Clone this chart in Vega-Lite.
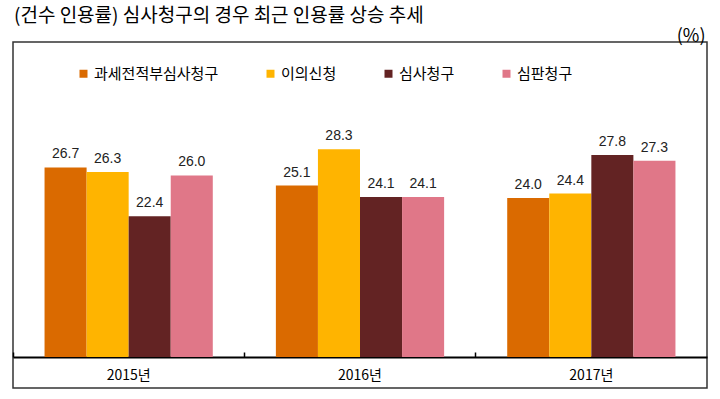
{
  "$schema": "https://vega.github.io/schema/vega-lite/v6.json",
  "width": 694,
  "height": 346,
  "autosize": {"type": "none"},
  "padding": {"left": 13, "top": 42, "right": 13, "bottom": 11},
  "background": "white",
  "config": {"view": {"stroke": "#333333", "strokeWidth": 1.5}},
  "title": {
    "text": "(건수 인용률) 심사청구의 경우 최근 인용률 상승 추세",
    "anchor": "start",
    "frame": "group",
    "font": "Noto Sans CJK KR",
    "fontSize": 19,
    "fontWeight": "normal",
    "color": "#000000",
    "offset": 1,
    "dx": 1
  },
  "data": {
    "values": [
      {"year": "2015년", "type": "과세전적부심사청구", "value": 26.7},
      {"year": "2015년", "type": "이의신청", "value": 26.3},
      {"year": "2015년", "type": "심사청구", "value": 22.4},
      {"year": "2015년", "type": "심판청구", "value": 26.0},
      {"year": "2016년", "type": "과세전적부심사청구", "value": 25.1},
      {"year": "2016년", "type": "이의신청", "value": 28.3},
      {"year": "2016년", "type": "심사청구", "value": 24.1},
      {"year": "2016년", "type": "심판청구", "value": 24.1},
      {"year": "2017년", "type": "과세전적부심사청구", "value": 24.0},
      {"year": "2017년", "type": "이의신청", "value": 24.4},
      {"year": "2017년", "type": "심사청구", "value": 27.8},
      {"year": "2017년", "type": "심판청구", "value": 27.3}
    ]
  },
  "encoding": {
    "x": {
      "field": "year",
      "type": "nominal",
      "scale": {"paddingInner": 0, "paddingOuter": 0},
      "axis": {
        "title": null,
        "orient": "bottom",
        "offset": -31,
        "domainColor": "#000000",
        "domainWidth": 2,
        "ticks": true,
        "tickColor": "#000000",
        "tickSize": -5,
        "tickWidth": 1.5,
        "bandPosition": 0,
        "labelAngle": 0,
        "labelFont": "Noto Sans CJK KR",
        "labelFontSize": 14,
        "labelColor": "#000000",
        "labelPadding": 16
      }
    },
    "xOffset": {
      "field": "type",
      "sort": ["과세전적부심사청구", "이의신청", "심사청구", "심판청구"],
      "scale": {"paddingInner": 0, "paddingOuter": 0.75}
    }
  },
  "layer": [
    {
      "mark": {"type": "bar"},
      "encoding": {
        "y": {
          "field": "value",
          "type": "quantitative",
          "scale": {"domain": [7.27, 37.75], "nice": false, "zero": false},
          "axis": {
            "title": "(%)",
            "labels": false,
            "ticks": false,
            "domain": false,
            "grid": false,
            "titleAngle": 0,
            "titleX": 692,
            "titleY": -1,
            "titleAlign": "right",
            "titleBaseline": "alphabetic",
            "titleFont": "Noto Sans CJK KR",
            "titleFontSize": 18,
            "titleFontWeight": "normal",
            "titleColor": "#000000"
          }
        },
        "y2": {"datum": 10},
        "color": {
          "field": "type",
          "type": "nominal",
          "sort": ["과세전적부심사청구", "이의신청", "심사청구", "심판청구"],
          "scale": {
            "domain": ["과세전적부심사청구", "이의신청", "심사청구", "심판청구"],
            "range": ["#DA6A00", "#FFB400", "#632323", "#E07788"]
          },
          "legend": {
            "orient": "none",
            "legendX": 63,
            "legendY": 24,
            "direction": "horizontal",
            "title": null,
            "padding": 0,
            "symbolType": "square",
            "symbolSize": 64,
            "symbolStrokeWidth": 0,
            "labelFont": "Noto Sans CJK KR",
            "labelFontSize": 15,
            "labelColor": "#000000",
            "labelOffset": 3,
            "columnPadding": 44,
            "labelLimit": 300
          }
        }
      }
    },
    {
      "mark": {
        "type": "text",
        "dy": -9,
        "baseline": "alphabetic",
        "font": "Liberation Sans",
        "fontSize": 14,
        "color": "#222222"
      },
      "encoding": {
        "y": {"field": "value", "type": "quantitative"},
        "text": {"field": "value", "type": "quantitative", "format": ".1f"}
      }
    }
  ]
}
